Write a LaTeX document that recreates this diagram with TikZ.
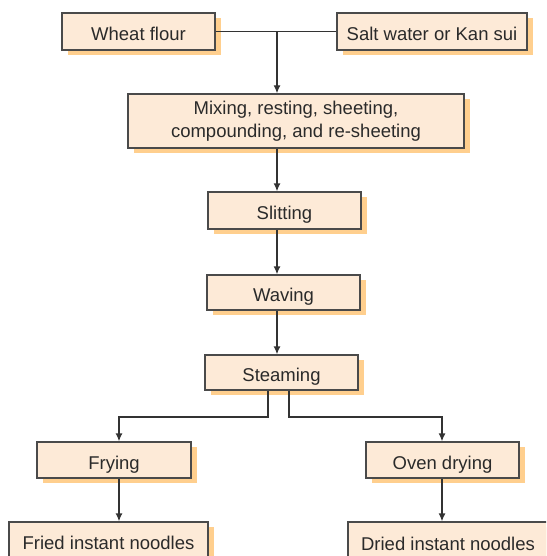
\documentclass[tikz,border=0pt]{standalone}
\usepackage{fontspec}
\setmainfont{Liberation Sans}
\usetikzlibrary{arrows.meta,shadows}
\definecolor{boxfill}{HTML}{FDEAD7}
\definecolor{shadowc}{HTML}{FFCF8E}
\definecolor{edgec}{HTML}{4A4A4A}
\definecolor{txtc}{HTML}{2A2A2A}
\definecolor{linec}{HTML}{333333}
\begin{document}
\begin{tikzpicture}[x=1pt,y=-1pt,
  procbox/.style={draw=edgec, line width=1.3pt, fill=boxfill, inner sep=0pt,
    text=txtc, align=center, font=\fontsize{18.5}{23}\selectfont,
    drop shadow={shadow xshift=6pt, shadow yshift=-5pt, fill=shadowc, opacity=1}},
  onebox/.style={procbox, text height=18pt, text depth=0pt},
  conn/.style={draw=linec, line width=1.3pt},
  arr/.style={conn, -{Latex[length=8pt,width=7pt]}}]
\useasboundingbox (0,0) rectangle (546,556);
\clip (0,0) rectangle (546,556);
\node[onebox, minimum width=153pt, minimum height=37pt] (wheat) at (138.5,31.5) {Wheat flour};
\node[onebox, minimum width=190pt, minimum height=37pt] (salt) at (432,31.5) {Salt water or Kan sui};
\node[procbox, minimum width=336pt, minimum height=54pt] (mix) at (296,121) {Mixing, resting, sheeting,\\compounding, and re-sheeting};
\node[onebox, minimum width=153pt, minimum height=37pt] (slit) at (284.5,210.5) {Slitting};
\node[onebox, minimum width=153pt, minimum height=35pt] (wave) at (283.5,292.5) {Waving};
\node[onebox, minimum width=153pt, minimum height=35pt] (steam) at (281.5,372.5) {Steaming};
\node[onebox, minimum width=154pt, minimum height=36pt] (fry) at (114,460) {Frying};
\node[onebox, minimum width=153pt, minimum height=36pt] (oven) at (442.5,460) {Oven drying};
\node[onebox, minimum width=199pt, minimum height=36pt] (fried) at (108.5,540) {Fried instant noodles};
\node[onebox, minimum width=200pt, minimum height=39pt] (dried) at (448,541.5) {Dried instant noodles};
\coordinate (spine) at (277,31.5);
\coordinate (sl) at (268,417);
\coordinate (sr) at (289,417);
\coordinate (bl) at (119,417);
\coordinate (br) at (442,417);
\draw[conn] (wheat.east) -- (salt.west);
\draw[arr] (spine) -- (spine |- mix.north);
\draw[arr] (mix.south -| spine) -- (slit.north -| spine);
\draw[arr] (slit.south -| spine) -- (wave.north -| spine);
\draw[arr] (wave.south -| spine) -- (steam.north -| spine);
\draw[arr] (steam.south -| sl) -- (sl) -- (bl) -- (bl |- fry.north);
\draw[arr] (steam.south -| sr) -- (sr) -- (br) -- (br |- oven.north);
\draw[arr] (fry.south -| bl) -- (fried.north -| bl);
\draw[arr] (oven.south -| br) -- (dried.north -| br);
\end{tikzpicture}
\end{document}
